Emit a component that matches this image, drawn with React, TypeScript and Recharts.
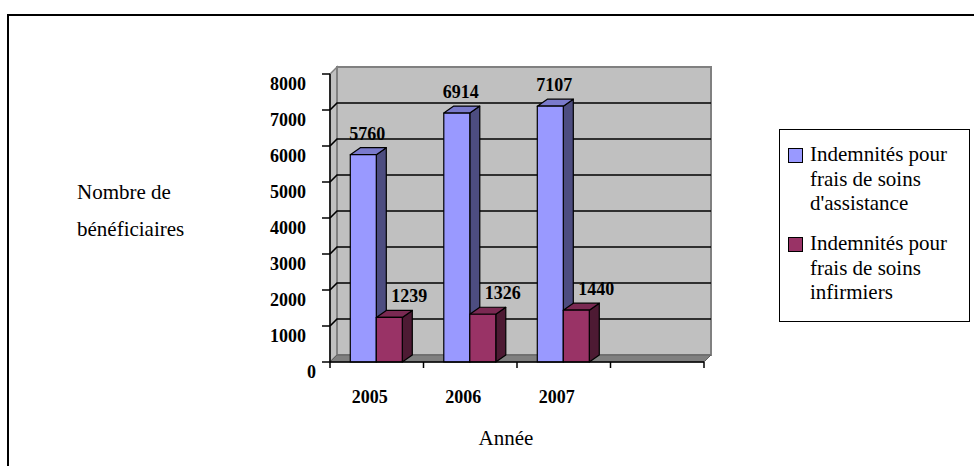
import React from 'react'
import {
  BarChart, Bar, XAxis, YAxis, CartesianGrid, Legend, LabelList, ReferenceArea,
} from 'recharts'

// ── Data ──────────────────────────────────────────────
const YEARS = ['2005', '2006', '2007', '']
const ASSISTANCE = [5760, 6914, 7107, null]
const INFIRMIERS = [1239, 1326, 1440, null]
const Y_TICKS = [0, 1000, 2000, 3000, 4000, 5000, 6000, 7000, 8000]
const SERIES_NAMES = [
  "Indemnités pour frais de soins d'assistance",
  'Indemnités pour frais de soins infirmiers',
]

const data = YEARS.map((year, i) => ({
  year,
  assistance: ASSISTANCE[i],
  infirmiers: INFIRMIERS[i],
}))

// ── Layout ────────────────────────────────────────────
const W = 974
const H = 466
const PLOT_LEFT = 330
const PLOT_RIGHT = 704
const BAND = (PLOT_RIGHT - PLOT_LEFT) / YEARS.length
const WALL_DEPTH = 7
const FONT = '"Liberation Serif", "Times New Roman", serif'

// ── 3D walls (back, side, floor) ──────────────────────
const Walls = (props: any) => {
  const { x, y, width, height } = props
  const d = WALL_DEPTH
  const b = y + height
  return (
    <g>
      <polygon points={`${x},${b} ${x},${y} ${x + d},${y - d} ${x + d},${b - d}`}
        fill="#c0c0c0" stroke="#808080" strokeWidth={1.5} />
      <rect x={x + d} y={y - d} width={width} height={height}
        fill="#c0c0c0" stroke="#808080" strokeWidth={2} />
      <polygon points={`${x},${b} ${x + d},${b - d} ${x + width + d},${b - d} ${x + width},${b}`}
        fill="#808080" stroke="#606060" strokeWidth={1} />
    </g>
  )
}

const GridLine = (props: any) => {
  const { x1, x2, y1, y, height } = props
  if (Math.abs(y1 - y) < 1 || Math.abs(y1 - (y + height)) < 1) return <g key={props.key} />
  const d = WALL_DEPTH
  return (
    <polyline key={props.key}
      points={`${x1},${y1} ${x1 + d},${y1 - d} ${x2 + d},${y1 - d}`}
      fill="none" stroke="#000" strokeWidth={1.6} />
  )
}

// ── 3D bar shape ──────────────────────────────────────
const bar3D = (front: string, side: string, top: string) => (props: any) => {
  const { x, y, width, height } = props
  if (!height || height <= 0) return <g />
  const dx = 10
  const dy = 7
  const r = x + width
  const b = y + height
  return (
    <g stroke="#000" strokeWidth={1.2} strokeLinejoin="round">
      <polygon points={`${r},${y} ${r + dx},${y - dy} ${r + dx},${b - dy} ${r},${b}`} fill={side} />
      <polygon points={`${x},${y} ${x + dx},${y - dy} ${r + dx},${y - dy} ${r},${y}`} fill={top} />
      <rect x={x} y={y} width={width} height={height} fill={front} />
    </g>
  )
}

const valueLabel = (shift: number) => (props: any) => {
  const vb = props.viewBox ?? props
  const { x, y, width } = vb
  if (props.value == null) return null
  return (
    <text x={x + width / 2 + shift} y={y - 15} textAnchor="middle"
      fontFamily={FONT} fontWeight="bold" fontSize={18} fill="#000">
      {props.value}
    </text>
  )
}

// ── Axis ticks & titles ───────────────────────────────
const XTick = ({ x, y, payload, index }: any) => (
  <g>
    <line x1={x - BAND / 2} y1={y} x2={x - BAND / 2} y2={y + 6} stroke="#000" strokeWidth={1.5} />
    {index === YEARS.length - 1 && (
      <line x1={x + BAND / 2} y1={y} x2={x + BAND / 2} y2={y + 6} stroke="#000" strokeWidth={1.5} />
    )}
    <text x={x - 7} y={y + 41} textAnchor="middle" fontFamily={FONT}
      fontWeight="bold" fontSize={18} fill="#000">
      {payload.value}
    </text>
  </g>
)

const YTick = ({ x, y, payload }: any) => (
  <text x={payload.value === 0 ? x + 10 : x} y={y + 15.5} textAnchor="end"
    fontFamily={FONT} fontWeight="bold" fontSize={18} fill="#000">
    {payload.value}
  </text>
)

const YTitle = () => (
  <text fontFamily={FONT} fontSize={21} fill="#000">
    <tspan x={77} y={199}>Nombre de</tspan>
    <tspan x={77} y={236}>bénéficiaires</tspan>
  </text>
)

const XTitle = () => (
  <text x={506} y={445} textAnchor="middle" fontFamily={FONT} fontSize={21} fill="#000">
    Année
  </text>
)

// ── Legend ────────────────────────────────────────────
const LegendBox = ({ payload }: any) => (
  <div style={{
    boxSizing: 'border-box', width: 191, height: 193, border: '1px solid #000',
    padding: '12px 0 0 8px', background: '#fff', fontFamily: FONT, fontSize: 21,
    lineHeight: '24.5px', color: '#000', textAlign: 'left',
  }}>
    {(payload ?? []).map((p: any, i: number) => (
      <div key={i} style={{ display: 'flex', alignItems: 'flex-start', marginTop: i ? 15.5 : 0 }}>
        <span style={{
          width: 15, height: 15, boxSizing: 'border-box', border: '1.5px solid #000',
          background: p.color, marginTop: 6, marginRight: 7, flex: 'none',
        }} />
        <span style={{ width: 152 }}>{p.value}</span>
      </div>
    ))}
  </div>
)

export default function App() {
  return (
    <div style={{ position: 'absolute', left: 0, top: 0, width: W, height: H, overflow: 'hidden', background: '#fff' }}>
      <div style={{
        position: 'absolute', left: 7, top: 14, width: 1000, height: 600,
        border: '2px solid #000',
      }} />
      <div style={{ position: 'absolute', left: 0, top: 0 }}>
        <BarChart width={W} height={H} data={data}
          margin={{ top: 74, right: 270, bottom: 74, left: 270 }}
          barCategoryGap="21.7%" barGap={0}>
          <ReferenceArea y1={0} y2={8000} shape={Walls} ifOverflow="visible" zIndex={-200} />
          <CartesianGrid vertical={false} horizontal={GridLine} />
          <XAxis dataKey="year" height={30} tickLine={false} tickSize={0} tickMargin={0}
            axisLine={{ stroke: '#000', strokeWidth: 1.5 }} tick={XTick} interval={0}
            label={XTitle} />
          <YAxis type="number" domain={[0, 8000]} ticks={Y_TICKS} width={60}
            tickSize={8} tickMargin={16} tick={YTick}
            tickLine={{ stroke: '#000', strokeWidth: 1.5 }}
            axisLine={{ stroke: '#000', strokeWidth: 1.5 }} label={YTitle} />
          <Legend layout="vertical" align="center" verticalAlign="middle"
            content={LegendBox}
            wrapperStyle={{ left: 779, top: 129, width: 191, height: 193 }} />
          <Bar dataKey="assistance" name={SERIES_NAMES[0]} fill="#9999FF"
            shape={bar3D('#9999FF', '#4D4D80', '#7A7ACC')} isAnimationActive={false}>
            <LabelList dataKey="assistance" content={valueLabel(4)} />
          </Bar>
          <Bar dataKey="infirmiers" name={SERIES_NAMES[1]} fill="#993366"
            shape={bar3D('#993366', '#4D1A33', '#7A2952')} isAnimationActive={false}>
            <LabelList dataKey="infirmiers" content={valueLabel(20)} />
          </Bar>
        </BarChart>
      </div>
    </div>
  )
}
